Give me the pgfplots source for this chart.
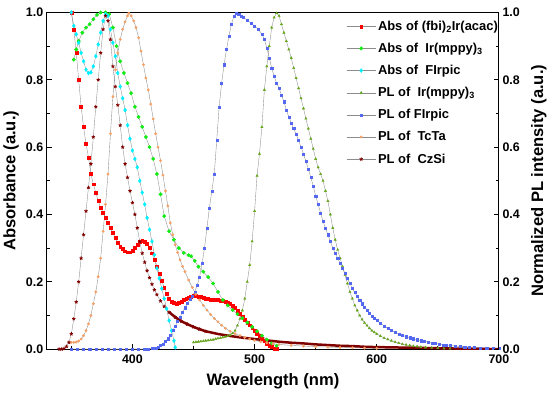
\documentclass[border=0pt]{standalone}
\usepackage{fontspec}
\setmainfont{Liberation Sans}
\usepackage{pgfplots}
\pgfplotsset{compat=1.18}
\usetikzlibrary{plotmarks}

\definecolor{cRed}{RGB}{255,0,0}
\definecolor{cGreen}{RGB}{20,235,20}
\definecolor{cCyan}{RGB}{0,240,255}
\definecolor{cOlive}{RGB}{100,165,25}
\definecolor{cBlue}{RGB}{85,105,240}
\definecolor{cOrange}{RGB}{245,160,100}
\definecolor{cDark}{RGB}{128,0,0}

\pgfplotsset{
  ser/.style={color=black!45, line width=0.35bp, mark options={solid, draw=#1, fill=#1}},
}

\begin{document}
\begin{tikzpicture}
\begin{axis}[
  scale only axis, width=435bp, height=324bp,
  xmin=330, xmax=700, ymin=0, ymax=1,
  xtick={400,500,600,700}, minor xtick={350,450,550,650},
  ytick={0,0.2,0.4,0.6,0.8,1.0}, yticklabels={0.0,0.2,0.4,0.6,0.8,1.0},
  minor ytick={0.1,0.3,0.5,0.7,0.9},
  xtick pos=bottom, ytick pos=left, tick align=inside,
  major tick length=5bp, minor tick length=3bp,
  axis line style={line width=1bp}, every tick/.style={black, line width=0.9bp},
  /pgf/number format/assume math mode=true,
  tick label style={font=\fontsize{12}{12}\selectfont\bfseries},
  xticklabel style={yshift=-2bp},
  label style={font=\fontsize{16}{16}\selectfont\bfseries},
  xlabel={Wavelength (nm)}, ylabel={Absorbance (a.u.)},
  xlabel style={yshift=-3bp},
  legend style={at={(rel axis cs:1.005,0.985)}, anchor=north east, draw=none, fill=none,
    font=\fontsize{12.5}{13}\selectfont\bfseries, row sep=6.8bp, inner sep=1bp},
  legend cell align=left,
  legend image code/.code={\draw[mark repeat=2,mark phase=2,#1] plot coordinates {(0bp,0bp) (14bp,0bp) (28bp,0bp)};},
]
% Abs of (fbi)2Ir(acac)
\addplot[ser=cRed, mark=square*, mark size=1.4bp] coordinates {
(350,1.0)(352,0.95)(354,0.88)(356,0.80)(358,0.72)(360,0.66)(362,0.61)(364,0.57)(366,0.52)(368,0.49)
(370,0.465)(372,0.44)(374,0.42)(376,0.405)(378,0.39)(380,0.375)(382,0.36)(384,0.345)(386,0.33)(388,0.317)
(390,0.305)(392,0.297)(394,0.291)(396,0.288)(398,0.288)(400,0.292)(402,0.300)(404,0.310)(406,0.319)(408,0.323)
(410,0.320)(412,0.312)(414,0.302)(416,0.285)(418,0.265)(420,0.245)(422,0.225)(424,0.203)(426,0.183)(428,0.165)
(430,0.150)(432,0.141)(434,0.137)(436,0.136)(438,0.138)(440,0.142)(442,0.146)(444,0.150)(446,0.154)(448,0.157)
(450,0.158)(452,0.158)(454,0.157)(456,0.155)(458,0.153)(460,0.151)(462,0.149)(464,0.148)(466,0.147)(468,0.147)
(470,0.146)(472,0.145)(474,0.143)(476,0.141)(478,0.138)(480,0.134)(482,0.129)(484,0.123)(486,0.115)(488,0.106)
(490,0.097)(492,0.088)(494,0.079)(496,0.071)(498,0.063)(500,0.055)(502,0.047)(504,0.039)(506,0.031)(508,0.024)
(510,0.017)(512,0.011)(514,0.006)(516,0.002)(518,0.0)
};
\addlegendentry{Abs of (fbi)\textsubscript{2}Ir(acac)}
% Abs of Ir(mppy)3
\addplot[ser=cGreen, mark=*, mark size=1.7bp] coordinates {
(352,0.86)(354,0.89)(356,0.915)(359,0.94)(362,0.955)(365,0.965)(368,0.98)(371,0.993)(374,1.0)(378,1.0)
(381,0.995)(384,0.955)(387,0.90)(390,0.855)(393,0.82)(396,0.79)(399,0.76)(402,0.72)(405,0.69)(408,0.66)
(411,0.63)(414,0.60)(417,0.565)(420,0.52)(423,0.46)(426,0.395)(430,0.35)(434,0.325)(438,0.30)(442,0.286)
(446,0.279)(448,0.276)(451,0.262)(454,0.245)(458,0.23)(462,0.214)(466,0.195)(470,0.17)(474,0.146)(478,0.13)
(482,0.116)(486,0.104)(490,0.092)(494,0.079)(498,0.066)(502,0.053)(506,0.040)(510,0.028)(514,0.017)(518,0.010)
};
\addlegendentry{Abs of\ \ Ir(mppy)\textsubscript{3}}
% Abs of FIrpic
\addplot[ser=cCyan, mark=diamond*, mark size=1.9bp] coordinates {
(350,1.0)(352,0.96)(354,0.935)(356,0.91)(358,0.88)(360,0.855)(362,0.83)(364,0.82)(366,0.822)(368,0.84)
(370,0.87)(372,0.905)(374,0.94)(376,0.975)(378,0.995)(380,0.99)(382,0.95)(384,0.91)(386,0.87)(388,0.82)
(390,0.78)(392,0.745)(394,0.71)(396,0.665)(398,0.625)(400,0.59)(402,0.565)(404,0.54)(406,0.50)(408,0.465)
(410,0.43)(412,0.39)(414,0.355)(416,0.32)(418,0.28)(420,0.24)(422,0.21)(424,0.18)(426,0.15)(428,0.12)
(430,0.085)(432,0.055)(434,0.025)(435,0.005)
};
\addlegendentry{Abs of\ \ FIrpic}
% PL of Ir(mppy)3
\addplot[ser=cOlive, mark=triangle*, mark size=1.3bp] coordinates {
(450,0.020)(452,0.021)(454,0.022)(456,0.023)(458,0.024)(460,0.025)(462,0.026)(464,0.027)(466,0.028)(468,0.030)
(470,0.032)(472,0.033)(474,0.035)(476,0.037)(478,0.039)(480,0.042)(482,0.047)(484,0.055)(486,0.07)(488,0.09)
(490,0.115)(492,0.15)(494,0.20)(496,0.25)(498,0.32)(500,0.41)(502,0.515)(504,0.58)(506,0.66)(508,0.77)
(510,0.84)(512,0.90)(514,0.955)(516,0.985)(518,0.998)(520,0.99)(522,0.965)(524,0.94)(526,0.915)(528,0.89)
(530,0.865)(532,0.835)(534,0.805)(536,0.775)(538,0.745)(540,0.715)(542,0.685)(544,0.655)(546,0.625)(548,0.595)
(550,0.565)(552,0.54)(554,0.52)(556,0.50)(558,0.47)(560,0.44)(562,0.40)(564,0.36)(566,0.325)(568,0.295)
(570,0.27)(572,0.245)(574,0.22)(576,0.195)(578,0.17)(580,0.15)(582,0.13)(584,0.115)(586,0.10)(588,0.088)
(590,0.078)(592,0.07)(594,0.062)(596,0.055)(598,0.05)(600,0.045)(603,0.039)(606,0.033)(609,0.029)(612,0.025)
(615,0.021)(618,0.018)(621,0.015)(624,0.013)(627,0.011)(630,0.009)(633,0.008)(636,0.006)(640,0.005)(645,0.004)
(650,0.003)(655,0.002)(660,0.002)
};
\addlegendentry{PL of\ \ Ir(mppy)\textsubscript{3}}
% PL of FIrpic
\addplot[ser=cBlue, mark=square*, mark size=1bp] coordinates {
(350,0.0)(355,0.0)(360,0.0)(365,0.0)(370,0.0)(375,0.0)(380,0.0)(385,0.0)(390,0.0)(395,0.0)
(400,0.0)(405,0.0)(410,0.0)(413,0.001)(416,0.002)(419,0.004)(421,0.007)(423,0.011)(425,0.016)(427,0.023)
(429,0.031)(431,0.042)(433,0.055)(435,0.068)(437,0.082)(439,0.096)(441,0.11)(443,0.123)(445,0.136)(447,0.148)
(449,0.158)(451,0.170)(453,0.19)(455,0.215)(457,0.255)(459,0.30)(461,0.36)(463,0.42)(465,0.47)(467,0.52)
(469,0.62)(471,0.72)(473,0.79)(475,0.845)(477,0.89)(479,0.93)(481,0.965)(483,0.988)(485,0.998)(487,0.995)
(489,0.99)(491,0.985)(494,0.977)(497,0.968)(500,0.960)(503,0.950)(506,0.935)(508,0.92)(510,0.895)(512,0.865)
(514,0.835)(516,0.81)(518,0.79)(520,0.775)(522,0.755)(524,0.735)(526,0.71)(528,0.69)(530,0.672)(532,0.655)
(534,0.638)(536,0.62)(538,0.60)(540,0.58)(542,0.558)(544,0.535)(546,0.51)(548,0.485)(550,0.455)(552,0.43)
(554,0.405)(556,0.38)(558,0.36)(560,0.34)(562,0.32)(564,0.30)(566,0.285)(568,0.27)(570,0.255)(572,0.24)
(574,0.225)(576,0.21)(578,0.195)(580,0.18)(582,0.168)(584,0.156)(586,0.145)(588,0.135)(590,0.125)(592,0.116)
(594,0.107)(596,0.099)(598,0.092)(600,0.085)(603,0.077)(606,0.069)(609,0.062)(612,0.056)(615,0.05)(618,0.045)
(621,0.041)(624,0.037)(627,0.034)(630,0.031)(633,0.028)(636,0.025)(639,0.023)(642,0.021)(645,0.019)(648,0.017)
(651,0.015)(654,0.013)(657,0.012)(660,0.011)(664,0.009)(668,0.008)(672,0.007)(676,0.006)(680,0.005)(685,0.004)
(690,0.003)(695,0.002)(700,0.002)
};
\addlegendentry{PL of FIrpic}
% PL of TcTa
\addplot[ser=cOrange, mark=*, mark size=1.2bp] coordinates {
(350,0.02)(352,0.02)(354,0.021)(356,0.024)(358,0.03)(360,0.04)(362,0.055)(364,0.075)(366,0.10)(368,0.135)
(370,0.17)(372,0.215)(374,0.27)(376,0.35)(378,0.43)(380,0.52)(382,0.64)(384,0.75)(386,0.83)(388,0.88)
(390,0.92)(392,0.95)(394,0.972)(396,0.99)(397,0.998)(399,0.99)(401,0.975)(403,0.955)(405,0.925)(407,0.885)
(409,0.845)(411,0.805)(413,0.77)(415,0.728)(417,0.684)(419,0.64)(421,0.60)(423,0.56)(425,0.517)(427,0.47)
(429,0.425)(431,0.375)(433,0.34)(435,0.31)(437,0.287)(439,0.265)(441,0.246)(443,0.23)(446,0.205)(449,0.183)
(452,0.163)(455,0.146)(458,0.13)(461,0.116)(464,0.103)(467,0.091)(470,0.081)(473,0.071)(476,0.062)(480,0.053)
(484,0.046)(488,0.040)(492,0.035)(496,0.030)(500,0.026)(505,0.022)(510,0.019)(515,0.016)(520,0.014)(530,0.011)
(540,0.009)(550,0.007)(560,0.006)(570,0.005)(580,0.004)(590,0.003)(600,0.002)
};
\addlegendentry{PL of\ \ TcTa}
% PL of CzSi
\addplot[color=black!45, line width=0.35bp, mark=star, mark size=1.7bp,
  mark options={solid, draw=cDark, fill=cDark, line width=0.8bp}] coordinates {
(340,0.0)(342,0.0)(344,0.002)(346,0.008)(348,0.02)(350,0.045)(352,0.09)(354,0.14)(356,0.2)(358,0.27)
(360,0.34)(362,0.41)(364,0.48)(366,0.55)(368,0.63)(370,0.72)(372,0.80)(374,0.88)(376,0.95)(378,0.99)
(380,0.975)(382,0.92)(384,0.84)(386,0.78)(388,0.725)(390,0.665)(392,0.60)(394,0.55)(396,0.51)(398,0.47)
(400,0.435)(402,0.40)(404,0.36)(406,0.32)(408,0.285)(410,0.258)(412,0.233)(414,0.212)(416,0.193)(418,0.176)
(420,0.162)(423,0.143)(426,0.127)(430,0.11)(435,0.095)(440,0.083)(445,0.074)(450,0.066)(455,0.059)(460,0.053)
};
\addlegendentry{PL of\ \ CzSi}
\addplot[cDark, line width=2.4bp, forget plot] coordinates {
(430,0.11)(435,0.095)(440,0.083)(445,0.074)(450,0.066)(455,0.059)(460,0.053)(470,0.045)(480,0.039)(490,0.034)
(500,0.030)(510,0.026)(520,0.022)(530,0.019)(540,0.017)(550,0.014)(560,0.012)(570,0.010)(580,0.009)(590,0.007)
(600,0.006)(615,0.005)(630,0.004)(645,0.003)(660,0.002)(680,0.001)(700,0.0)
};
\end{axis}
\begin{axis}[
  scale only axis, width=435bp, height=324bp,
  xmin=330, xmax=700, ymin=0, ymax=1,
  axis x line=none, axis y line*=right,
  ytick={0,0.2,0.4,0.6,0.8,1.0}, yticklabels={0.0,0.2,0.4,0.6,0.8,1.0},
  minor ytick={0.1,0.3,0.5,0.7,0.9},
  tick align=inside, major tick length=5bp, minor tick length=3bp,
  axis line style={line width=1bp, -}, every tick/.style={black, line width=0.9bp},
  /pgf/number format/assume math mode=true,
  tick label style={font=\fontsize{12}{12}\selectfont\bfseries},
  label style={font=\fontsize{16}{16}\selectfont\bfseries},
  ylabel={Normalized PL intensity (a.u.)},
  ylabel style={yshift=-4bp},
]
\addplot[draw=none, forget plot] coordinates {(330,0)(700,1)};
\end{axis}
% white margin above the frame, as in the reference
\path (current axis.north) ++(0,12bp);
\end{tikzpicture}
\end{document}
